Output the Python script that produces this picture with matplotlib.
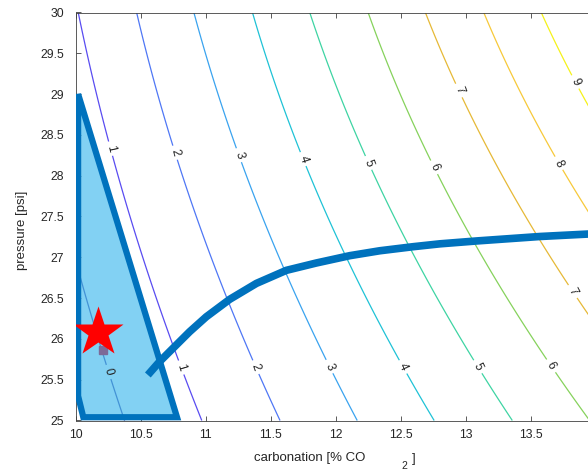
import numpy as np
import matplotlib
matplotlib.use("Agg")
import matplotlib.pyplot as plt
from matplotlib.colors import LinearSegmentedColormap

plt.rcParams['font.family'] = ['Liberation Sans', 'DejaVu Sans']

# contour levels and where each level crosses a few pressure rows
levels = [0, 1, 2, 3, 4, 5, 6, 7, 8, 9]
row_pressure = [25.0, 26.1, 27.8, 28.9, 30.0]
row_carbonation = [
    [10.38, 10.97, 11.57, 12.16, 12.75, 13.35, 13.94, 14.53, 15.12, 15.72],
    [10.15, 10.71, 11.27, 11.83, 12.38, 12.94, 13.50, 14.06, 14.62, 15.17],
    [9.87, 10.36, 10.86, 11.35, 11.84, 12.34, 12.83, 13.32, 13.81, 14.31],
    [9.71, 10.18, 10.65, 11.12, 11.59, 12.06, 12.53, 13.00, 13.47, 13.94],
    [9.58, 10.02, 10.47, 10.91, 11.36, 11.80, 12.25, 12.69, 13.14, 13.58],
]

# where MATLAB put the contour labels
label_pos = [(10.27, 25.60), (10.30, 28.34), (10.84, 25.66), (10.79, 28.29), (11.40, 25.66),
             (11.28, 28.26), (11.97, 25.67), (11.79, 28.22), (12.54, 25.67), (12.28, 28.17),
             (13.11, 25.67), (12.79, 28.12), (13.67, 25.68), (12.98, 29.06), (13.85, 26.60),
             (13.76, 28.18), (13.88, 29.17)]

# feasible region
region_x = [10.02, 10.78, 10.06, 10.02]
region_y = [29.0, 25.04, 25.04, 25.30]

# thick blue curve
curve_x = [10.556, 10.646, 10.749, 10.877, 11.005, 11.185, 11.39, 11.62, 11.85,
           12.108, 12.338, 12.595, 12.80, 13.08, 13.57, 14.0]
curve_y = [25.558, 25.721, 25.885, 26.088, 26.271, 26.485, 26.68, 26.84, 26.93,
           27.02, 27.08, 27.13, 27.165, 27.20, 27.255, 27.29]

# operating point
star_x, star_y = 10.17, 26.08
mark_x, mark_y = 10.21, 25.86

# build the field from the read crossings (smooth in pressure)
xs = np.linspace(9.5, 14.5, 400)
ys = np.linspace(25, 30, 200)
rows = np.array(row_carbonation)
fits = [np.polyfit(row_pressure, rows[:, k], 2) for k in range(len(levels))]
Z = np.zeros((len(ys), len(xs)))
for i, yv in enumerate(ys):
    xp = np.array([np.polyval(c, yv) for c in fits])
    z = np.interp(xs, xp, levels)
    lo = xs < xp[0]
    z[lo] = levels[0] - (xp[0] - xs[lo]) / (xp[1] - xp[0])
    hi = xs > xp[-1]
    z[hi] = levels[-1] + (xs[hi] - xp[-1]) / (xp[-1] - xp[-2])
    Z[i] = z
X, Y = np.meshgrid(xs, ys)

parula = LinearSegmentedColormap.from_list('parula', [
    '#2c2d9c', '#5a4cf2', '#4f78f5', '#3aa3ef', '#1fc2d6',
    '#3dd4a4', '#86d25c', '#e6b937', '#f7c93a', '#f5f21a'])

fig = plt.figure(figsize=(5.88, 4.70), dpi=100)
ax = fig.add_axes([75.5 / 588, 49.5 / 470, 520.5 / 588, 408 / 470])

cs = ax.contour(X, Y, Z, levels=levels, cmap=parula, linewidths=0.9, zorder=1)
ax.clabel(cs, fontsize=8.5, colors='#222222', inline=True, inline_spacing=4,
          manual=label_pos, fmt='%d')
# translucent fill sits over the contours, as in the original
ax.fill(region_x, region_y, color='#4DBEEE', alpha=0.7, lw=0, zorder=2.5)
ax.fill(region_x, region_y, facecolor='none', edgecolor='#0072BD', lw=4.5,
        joinstyle='miter', zorder=3)
ax.plot(curve_x, curve_y, color='#0072BD', lw=5.5, solid_capstyle='butt',
        solid_joinstyle='round', zorder=3)
ax.plot(mark_x, mark_y, 's', color='#7d6a98', ms=6, zorder=4)
ax.plot(star_x, star_y, '*', color='red', ms=38, mec='none', zorder=5)

ax.set_xlim(10, 14)
ax.set_ylim(25, 30)
ax.set_xticks(np.arange(10, 13.51, 0.5))
ax.set_yticks(np.arange(25, 30.01, 0.5))
ax.xaxis.set_major_formatter(plt.FuncFormatter(lambda v, p: f'{v:g}'))
ax.yaxis.set_major_formatter(plt.FuncFormatter(lambda v, p: f'{v:g}'))
ax.tick_params(direction='in', length=3.6, width=0.6, color='#404040',
               labelsize=8.8, labelcolor='#262626', top=True, right=True)
ax.tick_params(axis='y', pad=8)
ax.tick_params(axis='x', pad=6)
for s in ax.spines.values():
    s.set_color('#404040')
    s.set_linewidth(0.6)

ax.set_ylabel('pressure [psi]', fontsize=9.5, color='#262626')
ax.yaxis.set_label_coords(-0.091, 0.467)

# MATLAB-style split subscript in the x label
fig.text(310 / 588, 1 - 458 / 470, 'carbonation [% CO', fontsize=9.5, color='#262626',
         ha='center', va='center')
fig.text(404 / 588, 1 - 466 / 470, '2', fontsize=7.5, color='#262626',
         ha='center', va='center')
fig.text(414 / 588, 1 - 459 / 470, ']', fontsize=9.5, color='#262626',
         ha='center', va='center')

fig.savefig('out.png', dpi=100)
